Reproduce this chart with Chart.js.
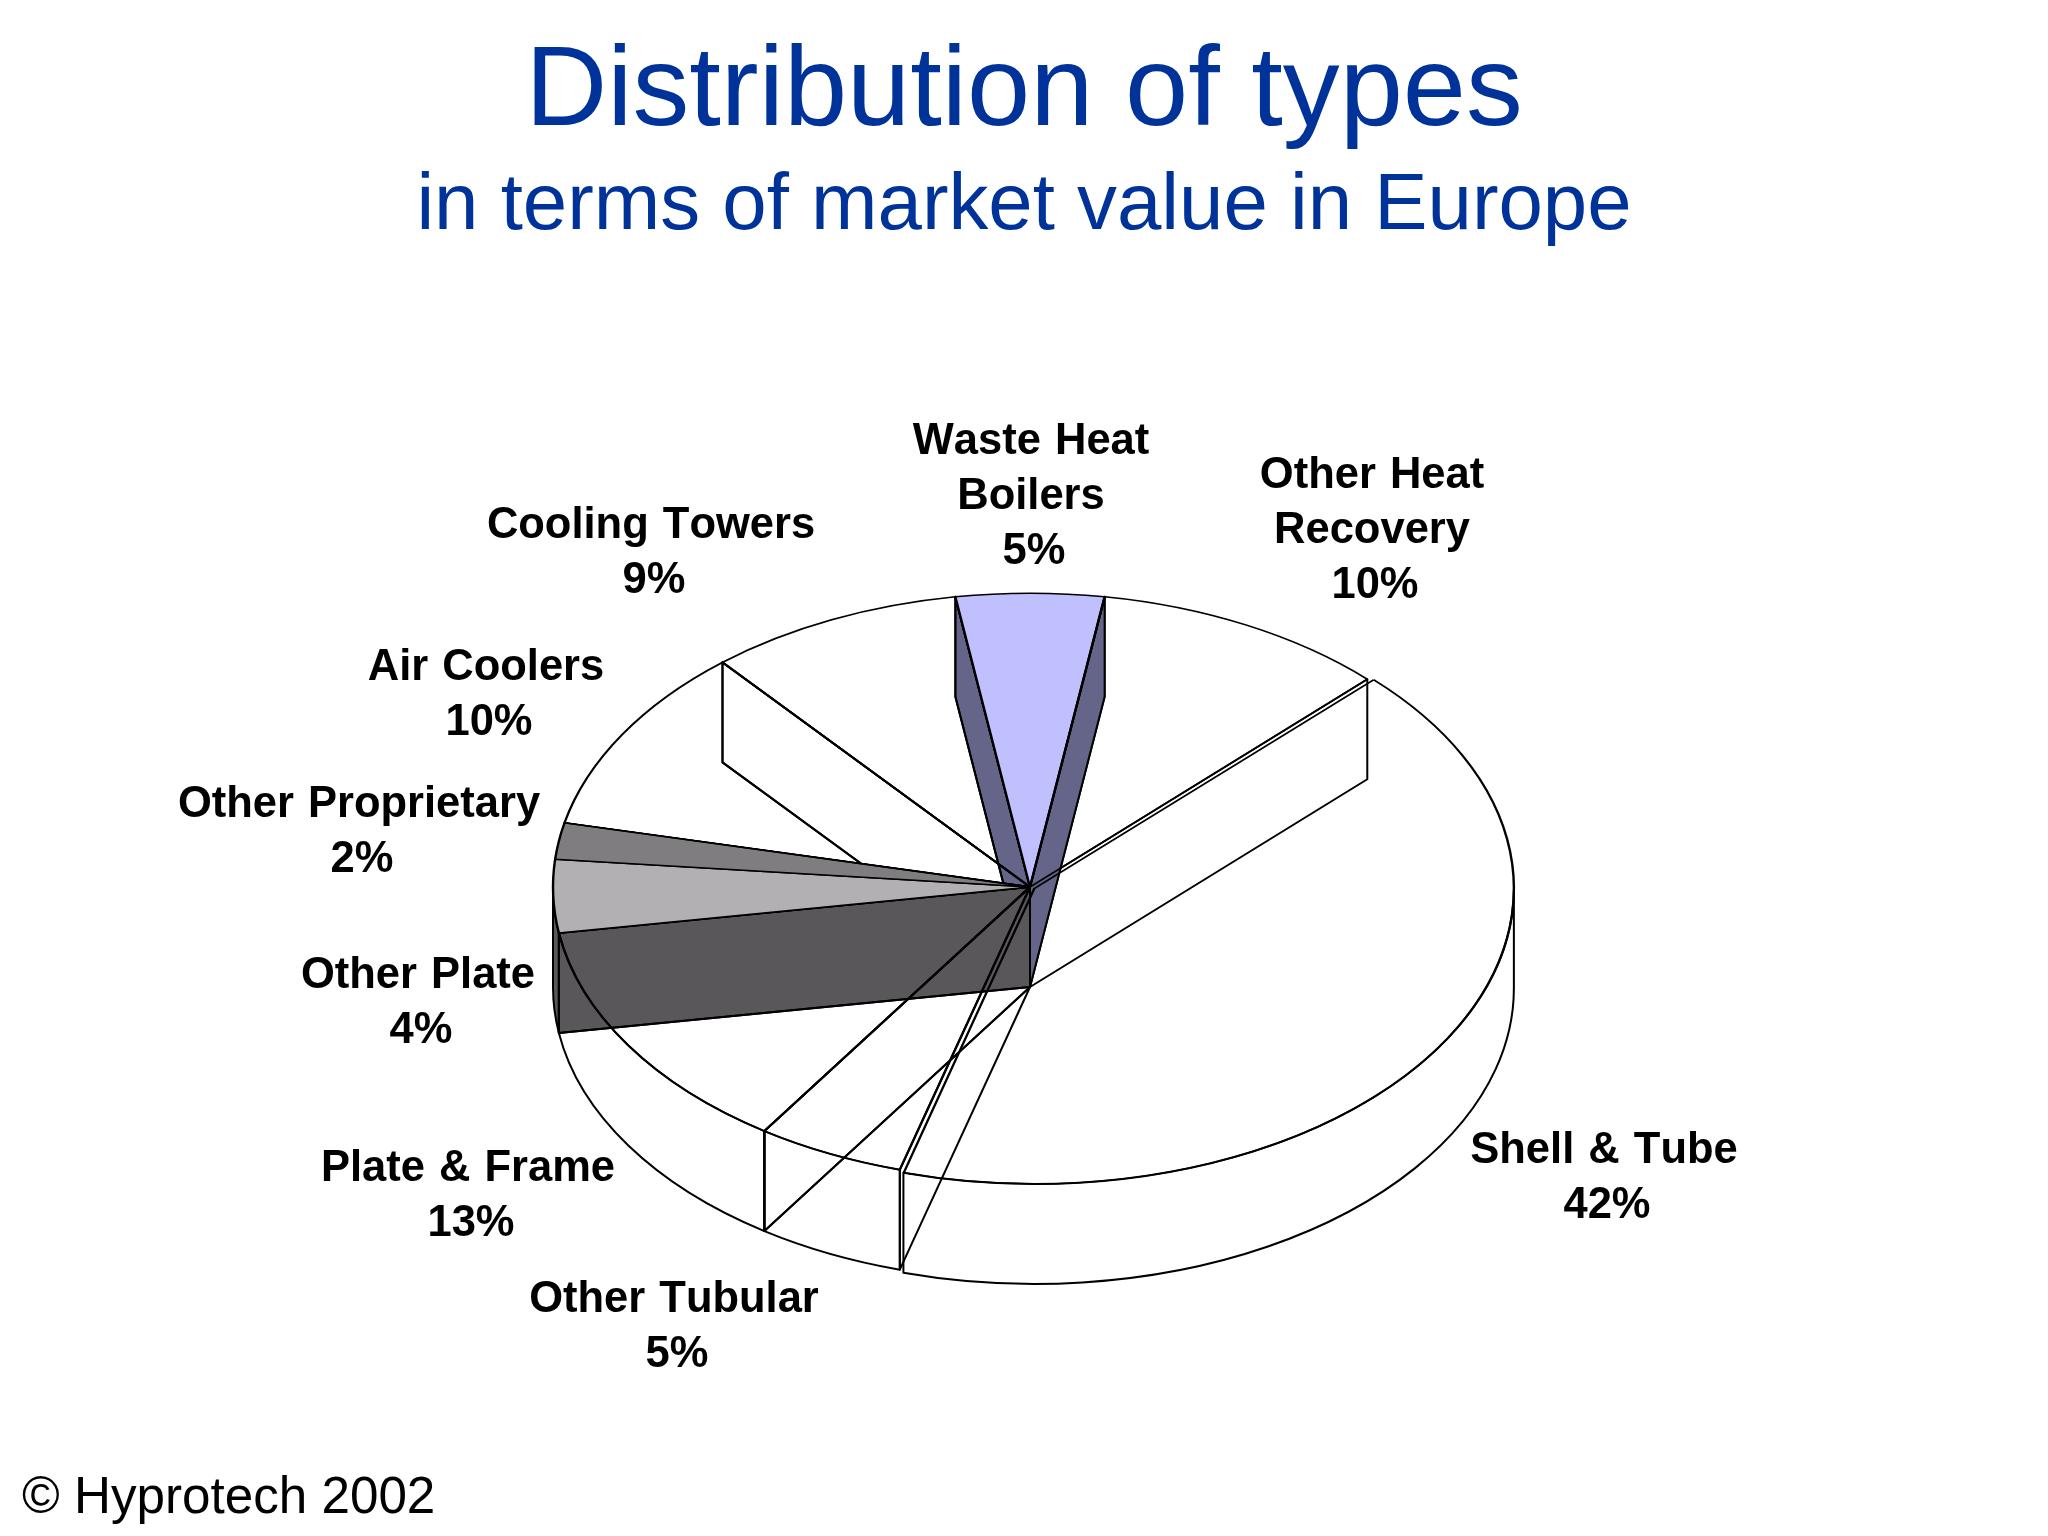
<!DOCTYPE html>
<html>
<head>
<meta charset="utf-8">
<style>html,body{margin:0;padding:0;background:#fff}canvas{display:block}</style>
<script src="https://cdn.jsdelivr.net/npm/chart.js@4"></script>
</head>
<body>
<canvas id="c" width="2048" height="1536"></canvas>
<script>
// ---- data ----
const categories = ["Shell & Tube","Other Tubular","Plate & Frame","Other Plate","Other Proprietary","Air Coolers","Cooling Towers","Waste Heat Boilers","Other Heat Recovery"];
const shareValues = [41.9,5,13.1,4,2,10.35,8.65,5,10];
const labelLines = [["Shell & Tube"],["Other Tubular"],["Plate & Frame"],["Other Plate"],["Other Proprietary"],["Air Coolers"],["Cooling Towers"],["Waste Heat","Boilers"],["Other Heat","Recovery"]];
// ---- styles and layout ----
const topColors = ["transparent","transparent","transparent","#b3b0b3","#807d81","transparent","transparent","#c0c0ff","transparent"];
const wallColors = ["transparent","transparent","transparent","#5a575a","#5a575a","transparent","transparent","#65658a","transparent"];
const sliceOffsets = [20,0,0,0,0,0,0,0,0];
const labelAnchors = [[1604,1163],[674,1312],[468,1181],[418,988],[359,817],[486,680],[651,538],[1031,454],[1372,488]];
const lineGap = 55, TILT = 0.616, DEPTH = 100, CX = 1030, CY = 887, RADIUS = 477;

const pie3d = {
  id:'pie3d',
  beforeDatasetsDraw(chart){
    const ctx = chart.ctx, arcs = chart.getDatasetMeta(0).data;
    ctx.save();
    ctx.lineWidth = 2; ctx.strokeStyle = '#000'; ctx.lineJoin='round';
    for(let i = arcs.length-1; i>=0; i--){
      const el = arcs[i], circ = el.circumference;
      const off = (el.options.offset||0)/4;
      const R = el.outerRadius + off*(1-Math.sin(Math.min(Math.PI,circ)));
      const mid = el.startAngle+circ/2;
      const cx = CX+Math.cos(mid)*off, cy = CY+TILT*Math.sin(mid)*off;
      ctx.fillStyle = wallColors[i];
      if(!el.options.offset){
        for(const a of [el.endAngle, el.startAngle]){
          const x = cx+R*Math.cos(a), y = cy+TILT*R*Math.sin(a);
          ctx.beginPath(); ctx.moveTo(x,y); ctx.lineTo(x,y+DEPTH); ctx.lineTo(cx,cy+DEPTH); ctx.lineTo(cx,cy); ctx.closePath();
          ctx.fill(); ctx.stroke();
        }
      }
      const a0 = Math.max(el.startAngle,0), a1 = Math.min(el.endAngle,Math.PI);
      if(a1>a0){
        ctx.beginPath();
        ctx.ellipse(cx,cy,R,TILT*R,0,a0,a1);
        ctx.ellipse(cx,cy+DEPTH,R,TILT*R,0,a1,a0,true);
        ctx.closePath();
        ctx.fill(); ctx.stroke();
      }
    }
    const e = arcs[0];
    ctx.translate(CX,CY); ctx.scale(1,TILT); ctx.translate(-e.x,-e.y);
  },
  afterDatasetsDraw(chart){ chart.ctx.restore(); },
  afterDraw(chart){
    const ctx = chart.ctx;
    ctx.save();
    ctx.fillStyle='#000'; ctx.textAlign='center'; ctx.textBaseline='alphabetic';
    ctx.font='bold 43.5px "Liberation Sans"';
    ctx.fontKerning='none';
    ctx.wordSpacing='2px';
    labelLines.forEach((lines,i)=>{
      const [x,y] = labelAnchors[i];
      lines.forEach((t,j)=>ctx.fillText(t,x,y+j*lineGap));
      ctx.fillText(Math.round(shareValues[i])+'%',x+3,y+lines.length*lineGap);
    });
    ctx.fontKerning='auto';
    ctx.wordSpacing='0px';
    ctx.textAlign='left';
    ctx.font='51.2px "Liberation Sans"';
    ctx.fillText('© Hyprotech 2002',22,1513);
    ctx.restore();
  }
};

new Chart(document.getElementById('c'),{
  type:'pie',
  data:{labels:categories,datasets:[{data:shareValues,backgroundColor:topColors,borderColor:'#000',borderWidth:2.4,offset:sliceOffsets,clip:false}]},
  plugins:[pie3d],
  options:{
    responsive:false,animation:false,devicePixelRatio:1,rotation:45,radius:RADIUS,
    layout:{padding:{top:27}},
    plugins:{
      legend:{display:false},tooltip:{enabled:false},
      title:{display:true,text:'Distribution of types',color:'#003399',font:{family:'"Liberation Sans"',size:113.6,weight:'normal',lineHeight:1.165},padding:{top:0,bottom:0}},
      subtitle:{display:true,text:'in terms of market value in Europe',color:'#003399',font:{family:'"Liberation Sans"',size:79.8,weight:'normal'},padding:{top:0,bottom:0}}
    }
  }
});
</script>
</body>
</html>
